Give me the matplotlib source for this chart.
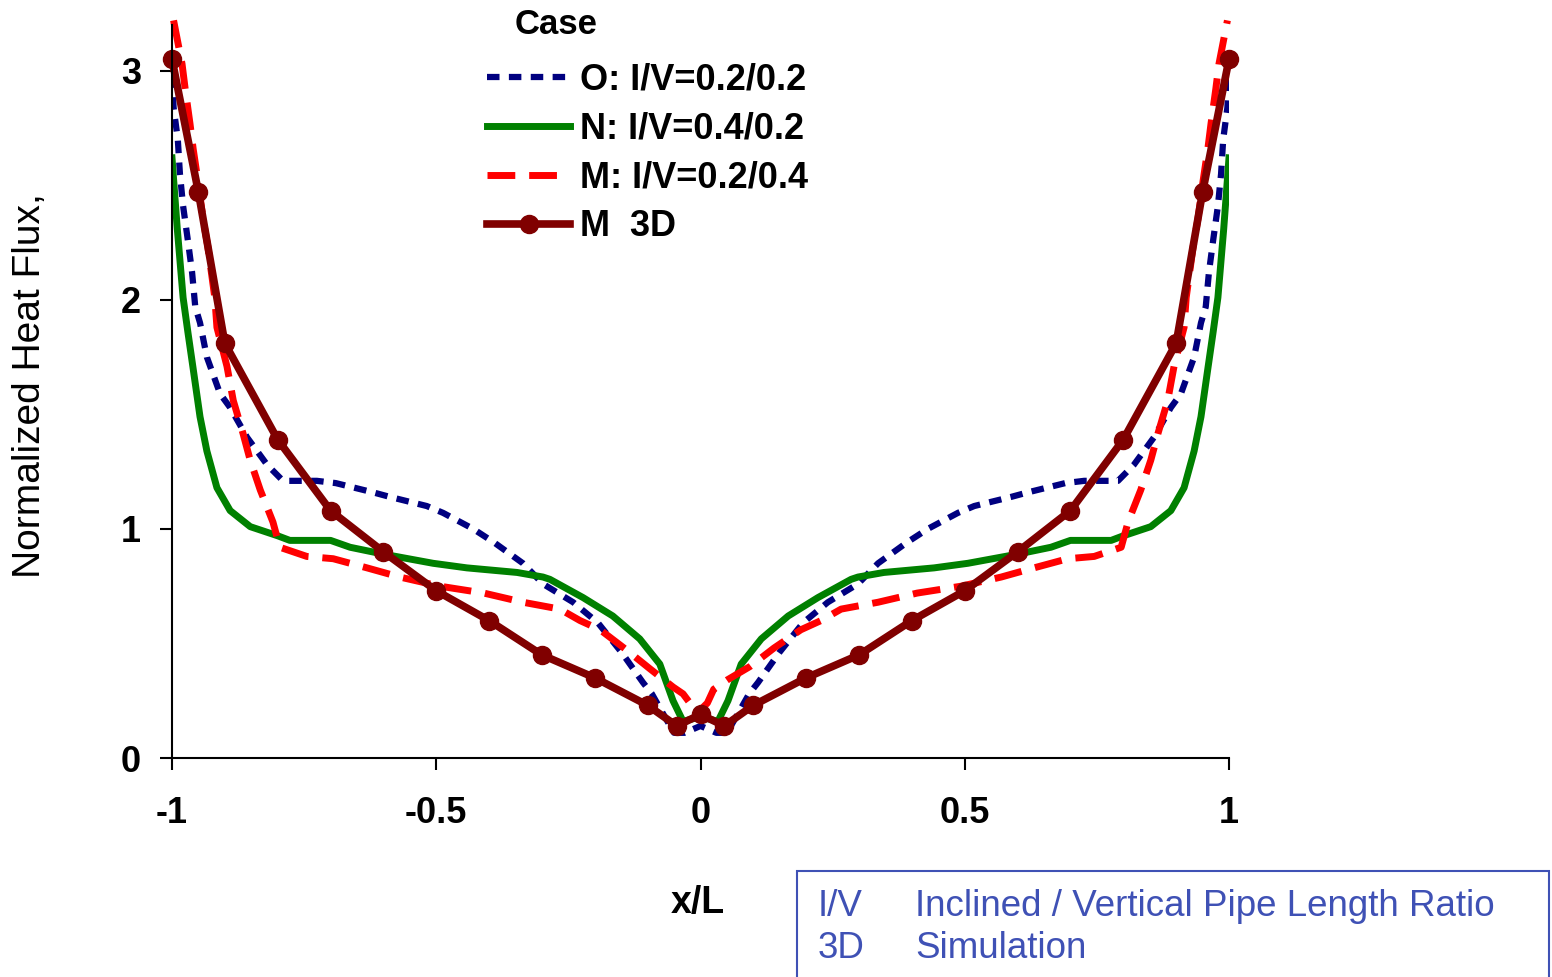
import numpy as np
import matplotlib
matplotlib.use('Agg')
import matplotlib.pyplot as plt
from matplotlib.patches import Rectangle

plt.rcParams['font.family'] = ['Liberation Sans', 'DejaVu Sans']

# O: I/V=0.2/0.2 (blue dotted)
x_o = [-1.0, -0.997, -0.989, -0.985, -0.979, -0.97, -0.962, -0.956, -0.947, -0.934,
       -0.909, -0.89, -0.858, -0.82, -0.79, -0.726, -0.69, -0.62, -0.588, -0.518,
       -0.487, -0.43, -0.39, -0.336, -0.298, -0.241, -0.194, -0.149, -0.109, -0.092,
       -0.07, -0.05, -0.03, 0.0,
       0.03, 0.05, 0.07, 0.092, 0.109, 0.149, 0.194, 0.241, 0.298, 0.336,
       0.39, 0.43, 0.487, 0.518, 0.588, 0.62, 0.69, 0.726, 0.79, 0.82,
       0.858, 0.89, 0.909, 0.934, 0.947, 0.956, 0.962, 0.97, 0.979, 0.985,
       0.989, 0.997, 1.0]
y_o = [2.98, 2.84, 2.70, 2.55, 2.41, 2.26, 2.12, 1.97, 1.90, 1.75,
       1.59, 1.53, 1.40, 1.28, 1.21, 1.21, 1.20, 1.16, 1.14, 1.10,
       1.07, 1.00, 0.94, 0.85, 0.76, 0.68, 0.59, 0.46, 0.33, 0.28,
       0.19, 0.11, 0.11, 0.14,
       0.11, 0.11, 0.19, 0.28, 0.33, 0.46, 0.59, 0.68, 0.76, 0.85,
       0.94, 1.00, 1.07, 1.10, 1.14, 1.16, 1.20, 1.21, 1.21, 1.28,
       1.40, 1.53, 1.59, 1.75, 1.90, 1.97, 2.12, 2.26, 2.41, 2.55,
       2.70, 2.84, 2.98]

# N: I/V=0.4/0.2 (green solid)
x_n = [-1.0, -0.99, -0.979, -0.97, -0.96, -0.947, -0.934, -0.915, -0.89, -0.852,
       -0.80, -0.777, -0.70, -0.663, -0.60, -0.506, -0.442, -0.347, -0.298, -0.285,
       -0.222, -0.166, -0.115, -0.077, -0.052, -0.033, 0.0,
       0.033, 0.052, 0.077, 0.115, 0.166, 0.222, 0.285, 0.298, 0.347, 0.442,
       0.506, 0.60, 0.663, 0.70, 0.777, 0.80, 0.852, 0.89, 0.915, 0.934,
       0.947, 0.96, 0.97, 0.979, 0.99, 1.0]
y_n = [2.62, 2.31, 2.01, 1.86, 1.70, 1.49, 1.34, 1.18, 1.08, 1.01,
       0.97, 0.95, 0.95, 0.92, 0.89, 0.85, 0.83, 0.81, 0.79, 0.78,
       0.70, 0.62, 0.52, 0.41, 0.25, 0.16, 0.18,
       0.16, 0.25, 0.41, 0.52, 0.62, 0.70, 0.78, 0.79, 0.81, 0.83,
       0.85, 0.89, 0.92, 0.95, 0.95, 0.97, 1.01, 1.08, 1.18, 1.34,
       1.49, 1.70, 1.86, 2.01, 2.31, 2.62]

# M: I/V=0.2/0.4 (red dashed)
x_m = [-0.997, -0.981, -0.975, -0.966, -0.96, -0.951, -0.941, -0.932, -0.919, -0.915,
       -0.896, -0.884, -0.866, -0.852, -0.833, -0.809, -0.796, -0.745, -0.695, -0.631,
       -0.569, -0.493, -0.41, -0.336, -0.266, -0.228, -0.19, -0.139, -0.096, -0.052,
       -0.033, -0.02, 0.0,
       0.013, 0.025, 0.05, 0.094, 0.139, 0.19, 0.228, 0.266, 0.336, 0.41,
       0.493, 0.569, 0.631, 0.695, 0.745, 0.796, 0.809, 0.833, 0.852, 0.866,
       0.884, 0.896, 0.915, 0.919, 0.932, 0.941, 0.951, 0.96, 0.966, 0.975,
       0.981, 0.997]
y_m = [3.22, 3.03, 2.92, 2.77, 2.66, 2.52, 2.35, 2.23, 2.01, 1.88,
       1.71, 1.56, 1.42, 1.30, 1.17, 1.03, 0.92, 0.88, 0.87, 0.83,
       0.79, 0.75, 0.72, 0.68, 0.65, 0.60, 0.56, 0.47, 0.39, 0.31,
       0.28, 0.24, 0.21,
       0.24, 0.30, 0.34, 0.40, 0.48, 0.56, 0.60, 0.65, 0.68, 0.72,
       0.75, 0.79, 0.83, 0.87, 0.88, 0.92, 1.03, 1.17, 1.30, 1.42,
       1.56, 1.71, 1.88, 2.01, 2.23, 2.35, 2.52, 2.66, 2.77, 2.92,
       3.03, 3.22]

# M 3D (maroon with markers)
x_3d = [-1.0, -0.95, -0.9, -0.8, -0.7, -0.6, -0.5, -0.4, -0.3, -0.2, -0.1, -0.045, 0.0,
        0.045, 0.1, 0.2, 0.3, 0.4, 0.5, 0.6, 0.7, 0.8, 0.9, 0.95, 1.0]
y_3d = [3.05, 2.47, 1.81, 1.39, 1.08, 0.90, 0.73, 0.60, 0.45, 0.35, 0.23, 0.14, 0.19,
        0.14, 0.23, 0.35, 0.45, 0.60, 0.73, 0.90, 1.08, 1.39, 1.81, 2.47, 3.05]

labels = ['O: I/V=0.2/0.2', 'N: I/V=0.4/0.2', 'M: I/V=0.2/0.4', 'M  3D']
xticks = [-1, -0.5, 0, 0.5, 1]
xticklabels = ['-1', '-0.5', '0', '0.5', '1']
yticks = [0, 1, 2, 3]
yticklabels = ['0', '1', '2', '3']

fig = plt.figure(figsize=(15.52, 9.77), dpi=100)
ax = fig.add_axes([172/1552, 1-758/977, (1229-172)/1552, (758-25)/977])

ax.plot(x_o, y_o, color='#000080', lw=4.5, dashes=(2, 1.5), label=labels[0])
ax.plot(x_n, y_n, color='#008000', lw=5, label=labels[1])
ax.plot(x_m, y_m, color='#ff0000', lw=5, dashes=(4, 2), label=labels[2], clip_on=False)
ax.plot(x_3d, y_3d, color='#800000', lw=5.5, marker='o', ms=13, label=labels[3], clip_on=False)

ax.set_xlim(-1, 1)
ax.set_ylim(0, 3.2)
ax.spines['top'].set_visible(False)
ax.spines['right'].set_visible(False)
for s in ['left', 'bottom']:
    ax.spines[s].set_linewidth(1.5)
ax.set_xticks(xticks)
ax.set_xticklabels(xticklabels, fontsize=26, fontweight='bold')
ax.set_yticks(yticks)
ax.set_yticklabels(yticklabels, fontsize=26, fontweight='bold')
ax.tick_params(axis='both', direction='out', length=8.5, width=1.5)
ax.tick_params(axis='x', pad=19)
ax.tick_params(axis='y', pad=14)

leg = ax.legend(loc='upper left', bbox_to_anchor=(487/1552, 1-63/977),
                bbox_transform=fig.transFigure, frameon=False,
                prop={'size': 26, 'weight': 'bold'}, handlelength=2.3,
                handletextpad=0.28, labelspacing=0.38, borderpad=0, borderaxespad=0)
fig.text(556/1552, 1-25/977, 'Case', fontsize=25, fontweight='bold', ha='center', va='center')

fig.text(30/1552, 1-386/977, 'Normalized Heat Flux,', fontsize=28, rotation=90,
         ha='center', va='center')
fig.text(698/1552, 1-903/977, 'x/L', fontsize=27, fontweight='bold', ha='center', va='center')

box_col = '#3f51b5'
fig.patches.append(Rectangle((797/1552, -0.01), (1549-797)/1552, (977-871)/977 + 0.01,
                             transform=fig.transFigure, fill=False, edgecolor=box_col, lw=1.5))
fig.text(818/1552, 1-906/977, 'I/V', fontsize=26.5, color=box_col, va='center')
fig.text(915/1552, 1-906/977, 'Inclined / Vertical Pipe Length Ratio', fontsize=26.5, color=box_col, va='center')
fig.text(818/1552, 1-949/977, '3D', fontsize=26.5, color=box_col, va='center')
fig.text(915/1552, 1-949/977, 'Simulation', fontsize=26.5, color=box_col, va='center')

fig.savefig('out.png', dpi=100)
